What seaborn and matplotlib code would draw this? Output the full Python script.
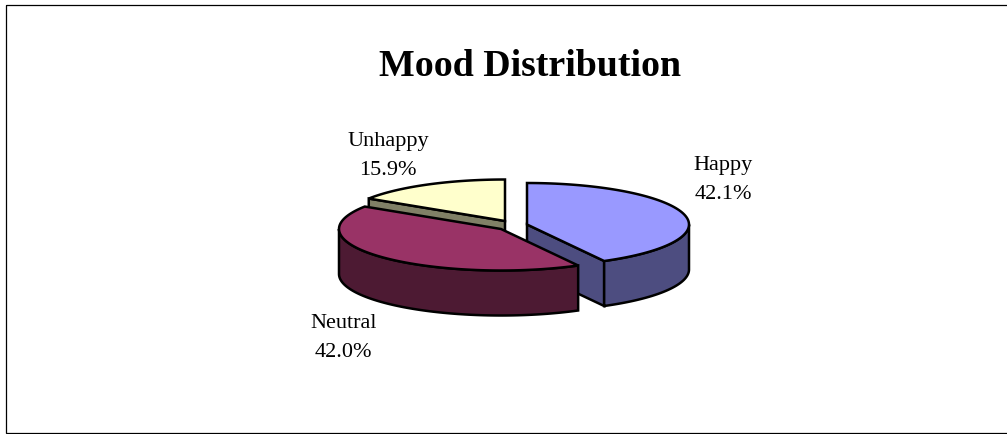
import numpy as np
import matplotlib as mpl
import matplotlib.pyplot as plt
from matplotlib.patches import Polygon, Rectangle
import seaborn as sns

mpl.use('Agg')

# Data
moods = ['Happy', 'Neutral', 'Unhappy']
shares = [42.1, 42.0, 15.9]

# Style and layout, all in pixels of the 1007x435 picture
top_colors = ['#9999FF', '#993366', '#FFFFCC']
side_colors = ['#4D4D80', '#4D1A33', '#808066']
centers = [(527, 225.5), (501, 230), (505, 222)]
label_pos = [(723, 200), (343.5, 358), (388, 176)]
draw_order = [2, 0, 1]
rx, ry = 162, 41.5
depth = 45
line_w = 1.8

sns.set_theme(style='white')
plt.rcParams['font.family'] = ['Liberation Serif', 'DejaVu Serif']

fig = plt.figure(figsize=(10.07, 4.35), dpi=100)
ax = fig.add_axes([0, 0, 1, 1])
ax.set_xlim(0, 1007)
ax.set_ylim(435, 0)
ax.axis('off')

# the right edge of the frame falls outside the picture
ax.add_patch(Rectangle((6, 6), 1010, 427.5, fill=False, ec='black', lw=0.9))
ax.text(530, 76, 'Mood Distribution', ha='center', va='baseline',
        fontsize=27.3, fontweight='bold', color='black')


def rim(center, a1, a2):
    # points on the squashed circle, angle going from a1 to a2 in degrees
    t = np.radians(np.linspace(a1, a2, 90))
    return np.c_[center[0] + rx * np.cos(t), center[1] - ry * np.sin(t)]


def face(points, color, z):
    ax.add_patch(Polygon(points, closed=True, fc=color, ec='black', lw=line_w,
                         joinstyle='miter', zorder=z))


# Wedges run clockwise from 12 o'clock
sweeps = 360 * np.array(shares) / np.sum(shares)
ends = 90 - np.cumsum(sweeps)
starts = ends + sweeps

for z, i in enumerate(draw_order):
    c = centers[i]
    down = np.array([0, depth])

    # flat cut faces that turn towards the viewer
    for a, sign in ((starts[i], -1), (ends[i], 1)):
        t = np.radians(a)
        normal_y = -sign * np.cos(t)
        if normal_y < -1e-6:
            edge = rim(c, a, a)[[0]]
            pts = np.vstack([[c], edge, edge + down, [np.array(c) + down]])
            face(pts, side_colors[i], z + 1)

    # outer wall, only the front half of the rim shows
    a1 = min(starts[i], 0)
    a2 = max(ends[i], -180)
    if a1 > a2:
        arc = rim(c, a1, a2)
        face(np.vstack([arc, arc[::-1] + down]), side_colors[i], z + 1)

    # top of the wedge
    face(np.vstack([[c], rim(c, starts[i], ends[i])]), top_colors[i], z + 1)

    ax.text(label_pos[i][0], label_pos[i][1] - 0.5, f'{moods[i]}\n{shares[i]:.1f}%',
            ha='center', va='baseline', fontsize=16, color='black',
            linespacing=1.72, zorder=10)

fig.savefig('out.png', dpi=100, facecolor='white')
